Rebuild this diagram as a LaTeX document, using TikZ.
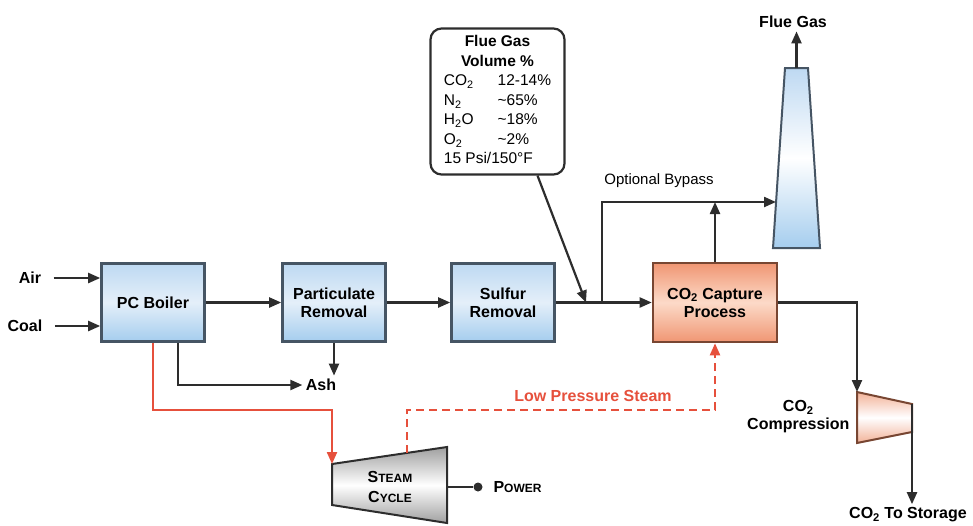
\documentclass[tikz,border=0pt]{standalone}
\usepackage{fontspec}
\setmainfont{Liberation Sans}
\usetikzlibrary{arrows.meta}
\newcommand{\klein}{\fontsize{12}{14}\selectfont}

\begin{document}
\begin{tikzpicture}[x=1pt, y=-1pt,
        font=\fontsize{16}{18}\selectfont\bfseries,
        linie/.style={draw=linienfarbe, line width=2.2pt},
        pfeil/.style={linie, -{Triangle[length=12pt,width=10pt]}},
        rotpfeil/.style={draw=rotfarbe, line width=2.2pt, -{Triangle[length=12pt,width=10pt]}},
        blauebox/.style={draw=blaurand, line width=2.6pt, top color=blau1, bottom color=blau2,
            middle color=blauhell, minimum width=103pt, minimum height=78pt, align=center},
        orangebox/.style={draw=orangerand, line width=2.6pt, top color=orange1, bottom color=orange1,
            middle color=orangehell, minimum width=124pt, minimum height=79pt, align=center},
        hinweis/.style={draw=linienfarbe, line width=2.2pt, rounded corners=11pt, fill=white,
            minimum width=134pt, minimum height=146pt, inner sep=0pt}]

        % Farben
        \definecolor{linienfarbe}{RGB}{45, 45, 45}
        \definecolor{rotfarbe}{RGB}{230, 80, 60}
        \definecolor{blaurand}{RGB}{70, 85, 100}
        \definecolor{blau1}{RGB}{190, 217, 242}
        \definecolor{blau2}{RGB}{165, 205, 238}
        \definecolor{blauhell}{RGB}{228, 239, 249}
        \definecolor{orangerand}{RGB}{120, 70, 50}
        \definecolor{orange1}{RGB}{240, 150, 115}
        \definecolor{orangehell}{RGB}{252, 218, 200}
        \definecolor{lachs}{RGB}{242, 178, 152}
        \definecolor{grau1}{RGB}{160, 160, 160}

        % Rahmen des Bildes
        \useasboundingbox (0, 0) rectangle (973, 525);

        % Die Blöcke
        \node[blauebox] (boiler) at (153, 302.5) {PC Boiler};
        \node[blauebox] (partic) at (334, 302.5) {Particulate\\Removal};
        \node[blauebox] (sulfur) at (503, 302.5) {Sulfur\\Removal};
        \node[orangebox] (capture) at (715, 302.5) {CO\textsubscript{2} Capture\\Process};

        % Kamin
        \shade[draw=blaurand, line width=2pt, top color=blau1, bottom color=blau2, middle color=white]
            (785, 68) -- (808, 68) -- (820, 248) -- (773, 248) -- cycle;
        \coordinate (stacktop) at (796.5, 68);
        \coordinate (stackwest) at (776, 202);

        % Verdichter
        \shade[draw=orangerand, line width=2pt, top color=lachs, bottom color=lachs, middle color=white]
            (857, 392) -- (912, 404) -- (912, 432) -- (857, 443) -- cycle;
        \coordinate (kompein) at (857, 392);
        \coordinate (kompaus) at (912, 404);

        % Dampfkreislauf
        \shade[draw=linienfarbe, line width=2pt, top color=grau1, bottom color=grau1, middle color=white]
            (332, 464) -- (447, 447) -- (447, 523) -- (332, 505) -- cycle;
        \coordinate (dampfein) at (332, 464);
        \coordinate (dampftop) at (407, 453);
        \coordinate (dampfaus) at (447, 487);
        \node[align=center, font=\fontsize{16}{20}\selectfont\bfseries] (steamcycle) at (390, 487)
            {S{\klein TEAM}\\C{\klein YCLE}};

        % Beschriftungen
        \node (air) at (30, 278) {Air};
        \node (coal) at (25, 326) {Coal};
        \node (ash) at (321, 385) {Ash};
        \node (fluegas) at (793, 22) {Flue Gas};
        \node[font=\fontsize{15}{18}\selectfont] (bypass) at (659, 181) {Optional Bypass};
        \node[text=rotfarbe] (lpsteam) at (593, 396) {Low Pressure Steam};
        \node[align=center, anchor=east] (compression) at (853, 417) {CO\textsubscript{2}\\Compression};
        \node (storage) at (908, 515) {CO\textsubscript{2} To Storage};
        \node[circle, fill=linienfarbe, inner sep=0pt, minimum size=9pt] (punkt) at (478, 487) {};
        \node[anchor=west] (power) at (490, 487) {P{\klein OWER}};

        % Rauchgas Kasten
        \node[hinweis] (fluebox) at (497.5, 101.5) {%
            \fontsize{15.5}{19.5}\selectfont
            \begin{tabular}{@{}l@{\hspace{24pt}}l@{}}
                \multicolumn{2}{c}{\bfseries Flue Gas}\\
                \multicolumn{2}{c}{\bfseries Volume \%}\\
                \mdseries CO\textsubscript{2} & \mdseries 12-14\%\\
                \mdseries N\textsubscript{2} & \mdseries \textasciitilde65\%\\
                \mdseries H\textsubscript{2}O & \mdseries \textasciitilde18\%\\
                \mdseries O\textsubscript{2} & \mdseries \textasciitilde2\%\\
                \multicolumn{2}{@{}l}{\mdseries 15 Psi/150\textdegree F}
            \end{tabular}};
        \coordinate (einlass) at (586, 302.5);
        \coordinate (abzweig) at (602, 302.5);

        % Hauptstrom
        \draw[pfeil, shorten <=9pt] (air.east) -- (air.east -| boiler.west);
        \draw[pfeil, shorten <=9pt] (coal.east) -- (coal.east -| boiler.west);
        \draw[pfeil] (boiler) -- (partic);
        \draw[pfeil] (partic) -- (sulfur);
        \draw[pfeil] (sulfur) -- (capture);
        \draw[pfeil] ([xshift=40pt]fluebox.south) -- (einlass);

        % Asche
        \draw[pfeil] ([xshift=25pt]boiler.south) |- (ash.west);
        \draw[pfeil] (partic.south) -- (partic.south |- ash.north);

        % Bypass und Kamin
        \draw[pfeil] (abzweig) |- (stackwest);
        \draw[pfeil] (capture.north) -- (capture.north |- stackwest);
        \draw[pfeil] (stacktop) -- (stacktop |- fluegas.south);

        % CO2 Verdichtung
        \draw[pfeil] (capture.east) -| (kompein);
        \draw[pfeil] (kompaus) -- (kompaus |- storage.north);

        % Dampf
        \coordinate (rotknick) at (332, 410);
        \draw[rotpfeil] (boiler.south) |- (rotknick) -- (dampfein);
        \draw[rotpfeil, dash pattern=on 8pt off 5pt] (dampftop) |- (rotknick -| capture.south) -- (capture.south);
        \draw[linie] (dampfaus) -- (punkt);
    \end{tikzpicture}
\end{document}
